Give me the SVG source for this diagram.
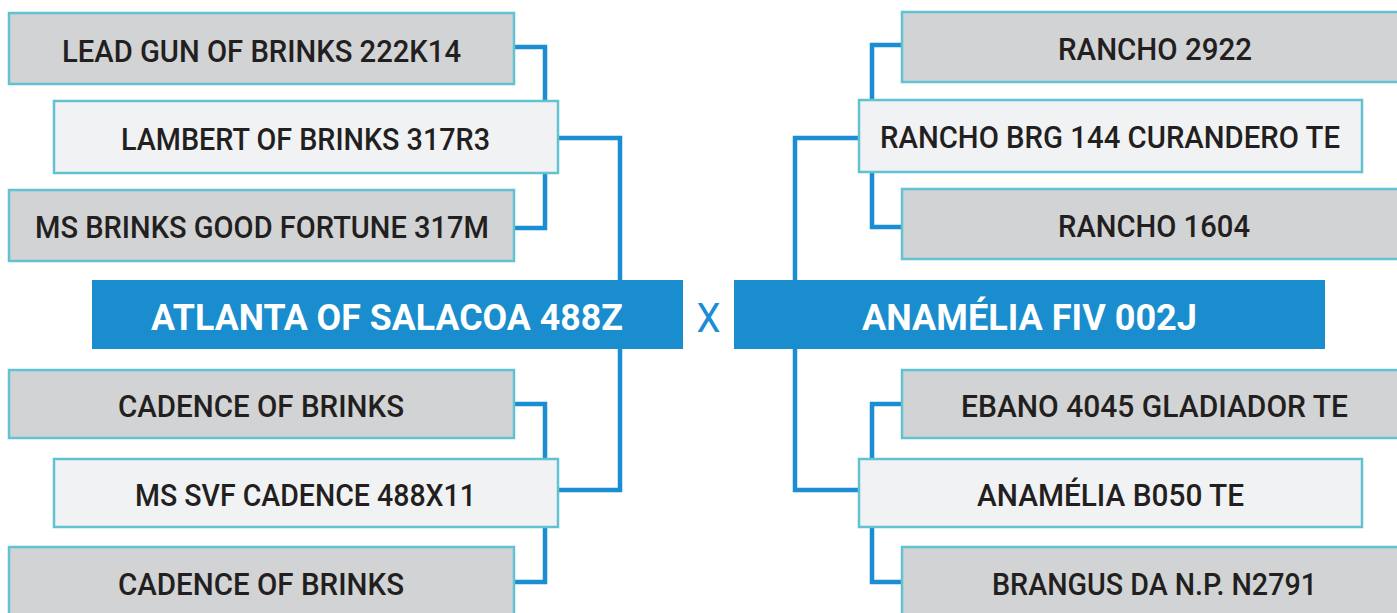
<svg xmlns="http://www.w3.org/2000/svg" width="1397" height="613" viewBox="0 0 1397 613">
<style>
.g{fill:#d1d3d4;stroke:#62c2d1;stroke-width:2.5}
.l{fill:#f1f2f4;stroke:#62c2d1;stroke-width:2.5}
.m{fill:#198dcd}
.t{font-family:Roboto,"Liberation Sans",Arial,sans-serif;font-size:31px;font-weight:500;fill:#231f20;text-anchor:middle}
.mt{font-family:Roboto,"Liberation Sans",Arial,sans-serif;font-size:37px;font-weight:bold;fill:#ffffff;text-anchor:middle}
.c{fill:none;stroke:#1b8dd2;stroke-width:4.5}
</style>
<rect width="1397" height="613" fill="#ffffff"/>
<g id="connectors">
<path class="c" d="M514 47 H545 V101 M545 173 V228 H514"/>
<path class="c" d="M558 138 H620 V280 M620 349 V490 H558"/>
<path class="c" d="M514 404 H545 V459 M545 527 V582 H514"/>
<path class="c" d="M902 45 H872 V100 M872 172 V227 H902"/>
<path class="c" d="M859 138 H795 V280 M795 349 V490 H859"/>
<path class="c" d="M902 404 H872 V459 M872 527 V582 H902"/>
</g>
<g id="n-leadgun"><rect class="g" x="9" y="13" width="505" height="71"/><text class="t" x="261.5" y="62" textLength="399" lengthAdjust="spacingAndGlyphs">LEAD GUN OF BRINKS 222K14</text></g>
<g id="n-lambert"><rect class="l" x="54" y="101" width="504" height="72"/><text class="t" x="305.5" y="150" textLength="369" lengthAdjust="spacingAndGlyphs">LAMBERT OF BRINKS 317R3</text></g>
<g id="n-msbrinks"><rect class="g" x="9" y="190" width="505" height="71"/><text class="t" x="262" y="238" textLength="454" lengthAdjust="spacingAndGlyphs">MS BRINKS GOOD FORTUNE 317M</text></g>
<g id="n-atlanta"><rect class="m" x="92" y="280" width="591" height="69"/><text class="mt" x="387" y="330" textLength="472" lengthAdjust="spacingAndGlyphs">ATLANTA OF SALACOA 488Z</text></g>
<g id="n-cadence1"><rect class="g" x="9" y="370" width="505" height="68"/><text class="t" x="261" y="417" textLength="286" lengthAdjust="spacingAndGlyphs">CADENCE OF BRINKS</text></g>
<g id="n-mssvf"><rect class="l" x="54" y="459" width="504" height="68"/><text class="t" x="305.5" y="506" textLength="341" lengthAdjust="spacingAndGlyphs">MS SVF CADENCE 488X11</text></g>
<g id="n-cadence2"><rect class="g" x="9" y="547" width="505" height="70"/><text class="t" x="261" y="595" textLength="286" lengthAdjust="spacingAndGlyphs">CADENCE OF BRINKS</text></g>
<g id="x-label"><text x="708.5" y="332" font-family="Roboto, Liberation Sans, Arial, sans-serif" font-size="41" fill="#1b8dd2" text-anchor="middle" textLength="24" lengthAdjust="spacingAndGlyphs">X</text></g>
<g id="n-rancho2922"><rect class="g" x="902" y="12" width="506" height="70"/><text class="t" x="1155" y="60" textLength="194" lengthAdjust="spacingAndGlyphs">RANCHO 2922</text></g>
<g id="n-ranchobrg"><rect class="l" x="859" y="100" width="503" height="72"/><text class="t" x="1110" y="148" textLength="460" lengthAdjust="spacingAndGlyphs">RANCHO BRG 144 CURANDERO TE</text></g>
<g id="n-rancho1604"><rect class="g" x="902" y="189" width="506" height="70"/><text class="t" x="1154" y="237" textLength="192" lengthAdjust="spacingAndGlyphs">RANCHO 1604</text></g>
<g id="n-anamelia"><rect class="m" x="734" y="280" width="591" height="69"/><text class="mt" x="1029.5" y="330" textLength="335" lengthAdjust="spacingAndGlyphs">ANAMÉLIA FIV 002J</text></g>
<g id="n-ebano"><rect class="g" x="902" y="370" width="506" height="68"/><text class="t" x="1154.5" y="417" textLength="387" lengthAdjust="spacingAndGlyphs">EBANO 4045 GLADIADOR TE</text></g>
<g id="n-anameliab050"><rect class="l" x="859" y="459" width="503" height="68"/><text class="t" x="1110.5" y="506" textLength="267" lengthAdjust="spacingAndGlyphs">ANAMÉLIA B050 TE</text></g>
<g id="n-brangus"><rect class="g" x="902" y="547" width="506" height="70"/><text class="t" x="1154.5" y="595" textLength="325" lengthAdjust="spacingAndGlyphs">BRANGUS DA N.P. N2791</text></g>
</svg>
